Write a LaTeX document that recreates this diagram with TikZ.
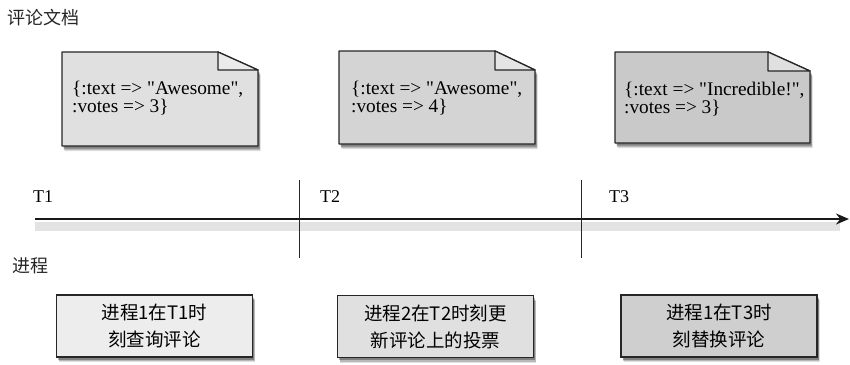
\documentclass[tikz,border=0pt]{standalone}
\usepackage{fontspec}
\setmainfont{Liberation Serif}
\newfontfamily\cjk{Noto Sans CJK SC}
\usetikzlibrary{arrows.meta,shadows}
\newcommand{\dq}{\XeTeXglyph\XeTeXcharglyph"22\relax}
\begin{document}
\begin{tikzpicture}[x=1pt,y=-1pt,
  softshadow/.style={
    drop shadow={shadow xshift=2.5pt,shadow yshift=-5pt,opacity=.12,fill=black},
    drop shadow={shadow xshift=2pt,shadow yshift=-4pt,opacity=.18,fill=black},
    drop shadow={shadow xshift=1.5pt,shadow yshift=-2.5pt,opacity=.3,fill=black}},
  docshape/.style={draw=black!85,line width=1.4pt,line join=round,softshadow},
  fold/.style={draw=black!85,line width=1.2pt,line join=round},
  doctext/.style={font=\fontsize{19.3}{17.5}\selectfont,align=left,inner sep=0pt,anchor=base west},
  tlabel/.style={font=\fontsize{18}{20}\selectfont,inner sep=0pt,anchor=base west},
  heading/.style={font=\cjk\fontsize{18}{20}\selectfont,inner sep=0pt,anchor=west,text=black!85},
  procbox/.style={draw=black!85,line width=1.4pt,minimum width=196pt,minimum height=62pt,
    align=center,font=\cjk\fontsize{18.5}{27}\selectfont,inner sep=0pt,softshadow},
  tick/.style={draw=black!85,line width=1.1pt},
  axis/.style={draw=black!90,line width=2.2pt,-{Stealth[length=13pt,width=11pt]}}
]
\useasboundingbox (0,0) rectangle (850,364);
% heading
\node[heading] (h1) at (7,18) {评论文档};
% documents
\path[docshape,fill=black!12] (62,52) -- (218,52) -- (258,70) -- (258,146) -- (62,146) -- cycle;
\path[fold,fill=black!8] (218,52) -- (218,70) -- (258,70) -- cycle;
\node[doctext] (d1) at (72,112) {\{:text => \dq Awesome\dq,\\:votes => 3\}};
\path[docshape,fill=black!17] (339,51) -- (495,51) -- (535,70) -- (535,144) -- (339,144) -- cycle;
\path[fold,fill=black!10] (495,51) -- (495,70) -- (535,70) -- cycle;
\node[doctext] (d2) at (351,112) {\{:text => \dq Awesome\dq,\\:votes => 4\}};
\path[docshape,fill=black!21] (615,52) -- (768,52) -- (810,71) -- (810,143) -- (615,143) -- cycle;
\path[fold,fill=black!12] (768,52) -- (768,71) -- (810,71) -- cycle;
\node[doctext] (d3) at (624,113) {\{:text => \dq Incredible!\dq,\\:votes => 3\}};
% timeline
\coordinate (a0) at (35,219);
\coordinate (a1) at (849,219);
\fill[black!11] (35,222) rectangle (840,231);
\draw[axis] (a0) -- (a1);
\coordinate (v1t) at (299.5,180);
\coordinate (v1b) at (299.5,258);
\coordinate (v2t) at (581.5,180);
\coordinate (v2b) at (581.5,258);
\draw[tick] (v1t) -- (v1b);
\draw[tick] (v2t) -- (v2b);
\node[tlabel] (t1) at (33,202) {T1};
\node[tlabel] (t2) at (320,202) {T2};
\node[tlabel] (t3) at (609,202) {T3};
% processes
\node[heading] (h2) at (12,266) {进程};
\node[procbox,fill=black!7] (p1) at (154.5,326) {进程1在T1时\\刻查询评论};
\node[procbox,fill=black!12] (p2) at (435.5,326.5) {进程2在T2时刻更\\新评论上的投票};
\node[procbox,fill=black!19] (p3) at (719,326) {进程1在T3时\\刻替换评论};
\end{tikzpicture}
\end{document}
